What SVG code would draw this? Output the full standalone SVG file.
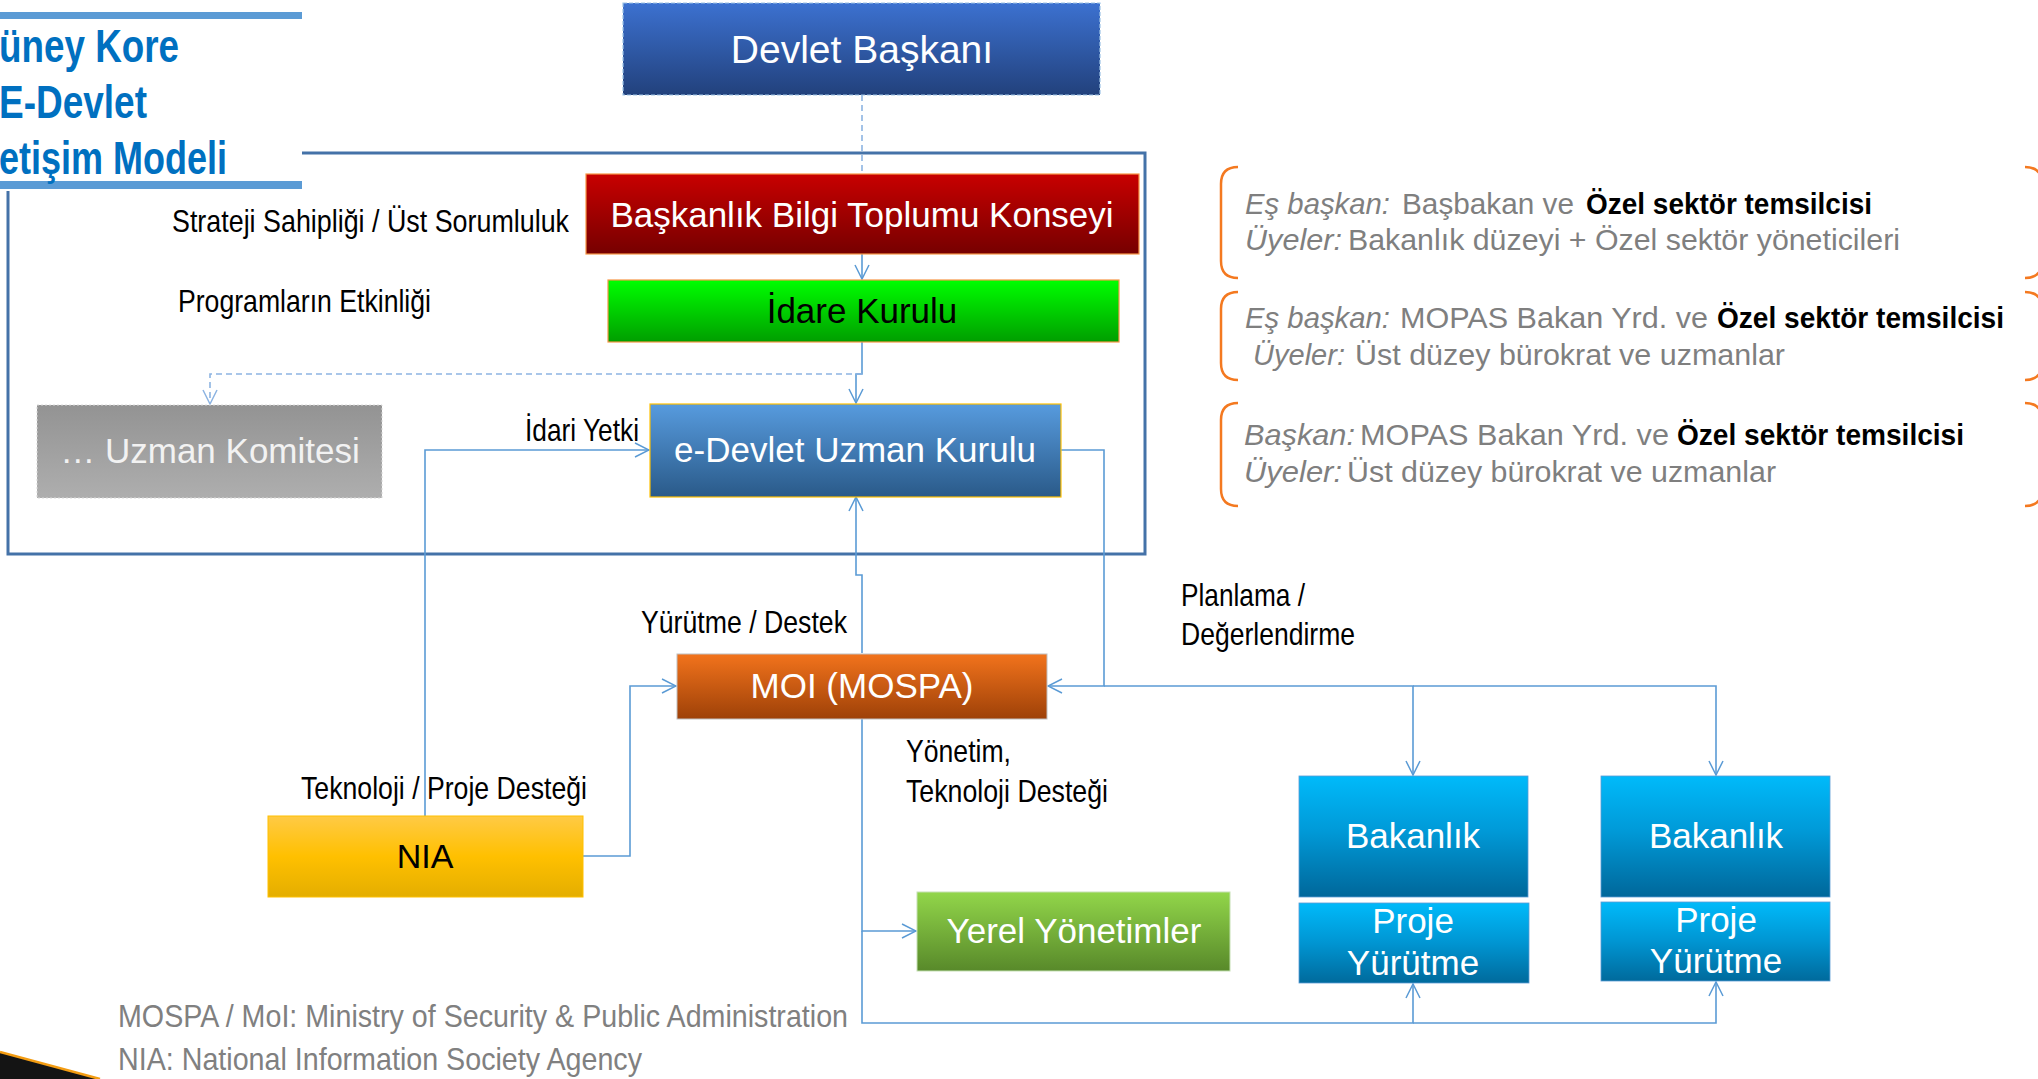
<svg xmlns="http://www.w3.org/2000/svg" width="2038" height="1079" viewBox="0 0 2038 1079">
<style>
text{font-family:"Liberation Sans",Arial,sans-serif}
.bt{font-size:35px;fill:#fff;text-anchor:middle}
.lb{font-size:32px;fill:#000}
.ft{font-size:32px;fill:#808080}
.tt{font-size:46px;font-weight:bold;fill:#0070C0}
.pi{font-size:30px;fill:#7F7F7F;font-style:italic}
.pr{font-size:30px;fill:#7F7F7F}
.pb{font-size:29px;fill:#000;font-weight:bold}
.con{fill:none;stroke:#5B9BD5;stroke-width:1.6}
.dash{fill:none;stroke:#8DB4E2;stroke-width:1.6;stroke-dasharray:6 4}
.br{fill:none;stroke:#F47920;stroke-width:2.5}
</style>
<defs>
<marker id="arr" viewBox="0 0 16 16" refX="15" refY="8" markerWidth="16" markerHeight="16" markerUnits="userSpaceOnUse" orient="auto">
<path d="M1,1 L15,8 L1,15" fill="none" stroke="#5B9BD5" stroke-width="1.5"/>
</marker>
<marker id="arrd" viewBox="0 0 16 16" refX="15" refY="8" markerWidth="16" markerHeight="16" markerUnits="userSpaceOnUse" orient="auto">
<path d="M1,1 L15,8 L1,15" fill="none" stroke="#8DB4E2" stroke-width="1.5"/>
</marker>
<linearGradient id="gDev" x1="0" y1="0" x2="0" y2="1"><stop offset="0" stop-color="#3C71D0"/><stop offset="1" stop-color="#22417C"/></linearGradient>
<linearGradient id="gRed" x1="0" y1="0" x2="0" y2="1"><stop offset="0" stop-color="#C80000"/><stop offset="1" stop-color="#760000"/></linearGradient>
<linearGradient id="gGrn" x1="0" y1="0" x2="0" y2="1"><stop offset="0" stop-color="#00FF00"/><stop offset="1" stop-color="#009E00"/></linearGradient>
<linearGradient id="gGry" x1="0" y1="0" x2="0" y2="1"><stop offset="0" stop-color="#939393"/><stop offset="1" stop-color="#AEAEAE"/></linearGradient>
<linearGradient id="gEdv" x1="0" y1="0" x2="0" y2="1"><stop offset="0" stop-color="#579BDE"/><stop offset="1" stop-color="#2A5A89"/></linearGradient>
<linearGradient id="gMoi" x1="0" y1="0" x2="0" y2="1"><stop offset="0" stop-color="#F2731C"/><stop offset="1" stop-color="#9E4108"/></linearGradient>
<linearGradient id="gNia" x1="0" y1="0" x2="0" y2="1"><stop offset="0" stop-color="#FFCA45"/><stop offset="0.5" stop-color="#FFC000"/><stop offset="1" stop-color="#E4AE00"/></linearGradient>
<linearGradient id="gYer" x1="0" y1="0" x2="0" y2="1"><stop offset="0" stop-color="#92D64A"/><stop offset="1" stop-color="#58892A"/></linearGradient>
<linearGradient id="gBak" x1="0" y1="0" x2="0" y2="1"><stop offset="0" stop-color="#00BAFA"/><stop offset="0.45" stop-color="#009AD8"/><stop offset="1" stop-color="#00679A"/></linearGradient>
<linearGradient id="gPro" x1="0" y1="0" x2="0" y2="1"><stop offset="0" stop-color="#00BAFA"/><stop offset="0.5" stop-color="#0095D2"/><stop offset="1" stop-color="#006A9C"/></linearGradient>
</defs>
<rect x="0" y="0" width="2038" height="1079" fill="#fff"/>

<g id="frame"><rect x="8" y="153" width="1137" height="401" fill="none" stroke="#4472A8" stroke-width="3"/></g>

<g id="title">
<rect x="0" y="0" width="302" height="191" fill="#fff"/>
<rect x="0" y="12" width="302" height="7" fill="#5B9BD5"/>
<rect x="0" y="181" width="302" height="8" fill="#5B9BD5"/>
<text class="tt" x="-1" y="62" textLength="180" lengthAdjust="spacingAndGlyphs">üney Kore</text>
<text class="tt" x="-1" y="118" textLength="148" lengthAdjust="spacingAndGlyphs">E-Devlet</text>
<text class="tt" x="-1" y="174" textLength="228" lengthAdjust="spacingAndGlyphs">etişim Modeli</text>
</g>

<g id="connectors">
<path class="dash" d="M862,95 V174"/>
<path class="con" d="M862,254 V279" marker-end="url(#arr)"/>
<path class="con" d="M862,342 V374 H856 V403" marker-end="url(#arr)"/>
<path class="dash" d="M862,374 H210 V404" marker-end="url(#arrd)"/>
<path class="con" d="M425,816 V450 H649" marker-end="url(#arr)"/>
<path class="con" d="M862,653 V575 H856 V497" marker-end="url(#arr)"/>
<path class="con" d="M1061,450 H1104 V686 H1048" marker-end="url(#arr)"/>
<path class="con" d="M1104,686 H1413 V775" marker-end="url(#arr)"/>
<path class="con" d="M1413,686 H1716 V775" marker-end="url(#arr)"/>
<path class="con" d="M583,856 H630 V686 H676" marker-end="url(#arr)"/>
<path class="con" d="M862,719 V931 H916" marker-end="url(#arr)"/>
<path class="con" d="M862,931 V1023 H1413 V984" marker-end="url(#arr)" stroke-width="2.2"/>
<path class="con" d="M1413,1023 H1716 V982" marker-end="url(#arr)"/>
</g>

<g id="devlet">
<rect x="623" y="3" width="477" height="92" fill="url(#gDev)" stroke="#9DC3E6" stroke-width="1.2" stroke-dasharray="4 2"/>
<text class="bt" x="862" y="63" style="font-size:39px">Devlet Başkanı</text>
</g>
<g id="konsey">
<rect x="586" y="174" width="553" height="80" fill="url(#gRed)" stroke="#F79646" stroke-width="1.2"/>
<text class="bt" x="862" y="227">Başkanlık Bilgi Toplumu Konseyi</text>
</g>
<g id="idare">
<rect x="608" y="280" width="511" height="62" fill="url(#gGrn)" stroke="#F79646" stroke-width="1.2"/>
<text class="bt" x="862" y="323" style="fill:#000">İdare Kurulu</text>
</g>
<g id="uzman">
<rect x="37" y="405" width="345" height="93" fill="url(#gGry)" stroke="#D9D9D9" stroke-width="1" stroke-dasharray="2 2"/>
<text class="bt" x="210" y="463" style="fill:#F2F2F2">… Uzman Komitesi</text>
</g>
<g id="edevlet">
<rect x="650" y="404" width="411" height="93" fill="url(#gEdv)" stroke="#FFC000" stroke-width="1.2"/>
<text class="bt" x="855" y="462">e-Devlet Uzman Kurulu</text>
</g>
<g id="moi">
<rect x="677" y="654" width="370" height="65" fill="url(#gMoi)" stroke="#BFBFBF" stroke-width="1"/>
<text class="bt" x="862" y="698">MOI (MOSPA)</text>
</g>
<g id="nia">
<rect x="268" y="816" width="315" height="81" fill="url(#gNia)" stroke="#FFC000" stroke-width="1"/>
<text class="bt" x="425" y="868" style="fill:#000;font-size:34px">NIA</text>
</g>
<g id="yerel">
<rect x="917" y="892" width="313" height="79" fill="url(#gYer)" stroke="#C5E0B4" stroke-width="1"/>
<text class="bt" x="1074" y="943">Yerel Yönetimler</text>
</g>
<g id="bakanlik1">
<rect x="1299" y="776" width="229" height="121" fill="url(#gBak)" stroke="#5B9BD5" stroke-width="0.8"/>
<text class="bt" x="1413" y="848">Bakanlık</text>
</g>
<g id="proje1">
<rect x="1299" y="903" width="230" height="80" fill="url(#gPro)" stroke="#5B9BD5" stroke-width="0.8"/>
<text class="bt" x="1413" y="933">Proje</text>
<text class="bt" x="1413" y="975">Yürütme</text>
</g>
<g id="bakanlik2">
<rect x="1601" y="776" width="229" height="121" fill="url(#gBak)" stroke="#5B9BD5" stroke-width="0.8"/>
<text class="bt" x="1716" y="848">Bakanlık</text>
</g>
<g id="proje2">
<rect x="1601" y="902" width="229" height="79" fill="url(#gPro)" stroke="#5B9BD5" stroke-width="0.8"/>
<text class="bt" x="1716" y="932">Proje</text>
<text class="bt" x="1716" y="973">Yürütme</text>
</g>

<g id="labels">
<text class="lb" x="172" y="232" textLength="397" lengthAdjust="spacingAndGlyphs">Strateji Sahipliği / Üst Sorumluluk</text>
<text class="lb" x="178" y="312" textLength="253" lengthAdjust="spacingAndGlyphs">Programların Etkinliği</text>
<text class="lb" x="525" y="441" textLength="114" lengthAdjust="spacingAndGlyphs">İdari Yetki</text>
<text class="lb" x="641" y="633" textLength="206" lengthAdjust="spacingAndGlyphs">Yürütme / Destek</text>
<text class="lb" x="1181" y="606" textLength="124" lengthAdjust="spacingAndGlyphs">Planlama /</text>
<text class="lb" x="1181" y="645" textLength="174" lengthAdjust="spacingAndGlyphs">Değerlendirme</text>
<text class="lb" x="301" y="799" textLength="286" lengthAdjust="spacingAndGlyphs">Teknoloji / Proje Desteği</text>
<text class="lb" x="906" y="762" textLength="105" lengthAdjust="spacingAndGlyphs">Yönetim,</text>
<text class="lb" x="906" y="802" textLength="202" lengthAdjust="spacingAndGlyphs">Teknoloji Desteği</text>
<text class="ft" x="118" y="1027" textLength="730" lengthAdjust="spacingAndGlyphs">MOSPA / MoI: Ministry of Security &amp; Public Administration</text>
<text class="ft" x="118" y="1070" textLength="524" lengthAdjust="spacingAndGlyphs">NIA: National Information Society Agency</text>
</g>

<g id="panel">
<path class="br" d="M1238,167 Q1221,167 1221,184 V261 Q1221,278 1238,278"/>
<path class="br" d="M2025,167 Q2042,167 2042,184 V261 Q2042,278 2025,278"/>
<path class="br" d="M1238,292 Q1221,292 1221,309 V363 Q1221,380 1238,380"/>
<path class="br" d="M2025,292 Q2042,292 2042,309 V363 Q2042,380 2025,380"/>
<path class="br" d="M1238,403 Q1221,403 1221,420 V489 Q1221,506 1238,506"/>
<path class="br" d="M2025,403 Q2042,403 2042,420 V489 Q2042,506 2025,506"/>
<text class="pi" x="1245" y="214" textLength="145" lengthAdjust="spacingAndGlyphs">Eş başkan:</text>
<text class="pr" x="1402" y="214" textLength="172" lengthAdjust="spacingAndGlyphs">Başbakan ve</text>
<text class="pb" x="1586" y="214" textLength="286" lengthAdjust="spacingAndGlyphs">Özel sektör temsilcisi</text>
<text class="pi" x="1245" y="250" textLength="97" lengthAdjust="spacingAndGlyphs">Üyeler:</text>
<text class="pr" x="1348" y="250" textLength="552" lengthAdjust="spacingAndGlyphs">Bakanlık düzeyi + Özel sektör yöneticileri</text>
<text class="pi" x="1245" y="328" textLength="145" lengthAdjust="spacingAndGlyphs">Eş başkan:</text>
<text class="pr" x="1400" y="328" textLength="308" lengthAdjust="spacingAndGlyphs">MOPAS Bakan Yrd. ve</text>
<text class="pb" x="1717" y="328" textLength="287" lengthAdjust="spacingAndGlyphs">Özel sektör temsilcisi</text>
<text class="pi" x="1253" y="365" textLength="92" lengthAdjust="spacingAndGlyphs">Üyeler:</text>
<text class="pr" x="1355" y="365" textLength="430" lengthAdjust="spacingAndGlyphs">Üst düzey bürokrat ve uzmanlar</text>
<text class="pi" x="1244" y="445" textLength="111" lengthAdjust="spacingAndGlyphs">Başkan:</text>
<text class="pr" x="1360" y="445" textLength="309" lengthAdjust="spacingAndGlyphs">MOPAS Bakan Yrd. ve</text>
<text class="pb" x="1677" y="445" textLength="287" lengthAdjust="spacingAndGlyphs">Özel sektör temsilcisi</text>
<text class="pi" x="1244" y="482" textLength="98" lengthAdjust="spacingAndGlyphs">Üyeler:</text>
<text class="pr" x="1347" y="482" textLength="429" lengthAdjust="spacingAndGlyphs">Üst düzey bürokrat ve uzmanlar</text>
</g>

<g id="corner">
<polygon points="0,1052 100,1079 0,1079" fill="#141414"/>
<line x1="0" y1="1052" x2="100" y2="1079" stroke="#F39C12" stroke-width="2.5"/>
</g>
</svg>
